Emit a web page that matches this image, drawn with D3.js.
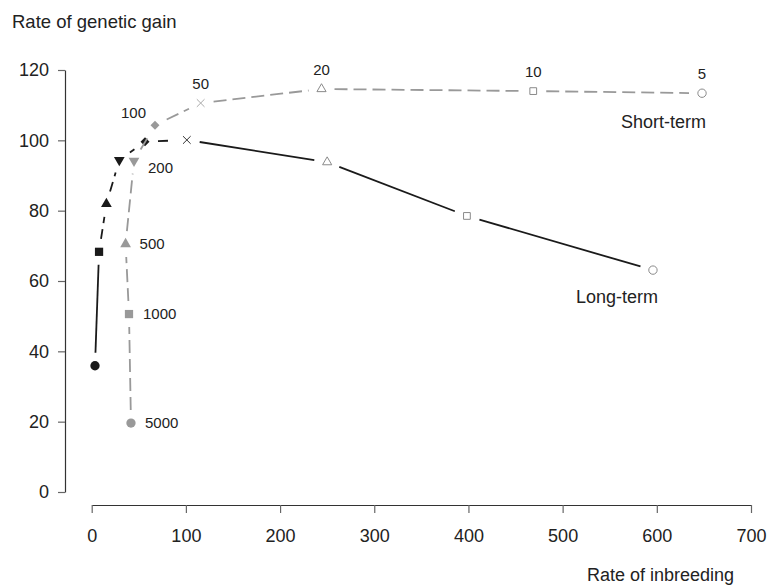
<!DOCTYPE html>
<html>
<head>
<meta charset="utf-8">
<script src="https://cdn.jsdelivr.net/npm/d3@7"></script>
<style>
  body { margin: 0; background: #fff; }
  svg { display: block; font-family: "Liberation Sans", Arial, sans-serif; }
</style>
</head>
<body>
<div id="chart"></div>
<script>
// population sizes labelling each point (same order in both series)
const popSizes = ["5000", "1000", "500", "200", "100", "50", "20", "10", "5"];

// long-term response
const longInbreeding = [3.5, 7.8, 15.6, 29.3, 56.6, 101, 250, 398.4, 595.9];
const longGain = [35.9, 68.3, 81.9, 94.4, 99.6, 100.1, 93.8, 78.5, 63.1];

// short-term response
const shortInbreeding = [41.7, 39.6, 36, 44.9, 67.2, 115.7, 244, 468.8, 648];
const shortGain = [19.6, 50.6, 70.5, 94.2, 104.3, 110.6, 114.6, 114.0, 113.4];

const xTicks = [0, 100, 200, 300, 400, 500, 600, 700];
const yTicks = [0, 20, 40, 60, 80, 100, 120];

const width = 769, height = 586;

const x = d3.scaleLinear().domain([0, 700]).range([91.7, 751]);
const y = d3.scaleLinear().domain([0, 120]).range([492, 70]);

const svg = d3.select("#chart").append("svg")
    .attr("width", width)
    .attr("height", height);

// axes
const yAxis = svg.append("g")
    .attr("transform", "translate(65,0)")
    .call(d3.axisLeft(y).tickValues(yTicks).tickSize(7).tickSizeOuter(0).tickPadding(9));
const xAxis = svg.append("g")
    .attr("transform", "translate(0,505)")
    .call(d3.axisBottom(x).tickValues(xTicks).tickSize(8).tickSizeOuter(0).tickPadding(16));

[xAxis, yAxis].forEach(g => {
    g.select(".domain").attr("stroke", "#333").attr("stroke-width", 1.2);
    g.selectAll(".tick line").attr("stroke", "#666").attr("stroke-width", 1.2);
    g.selectAll(".tick text").attr("font-size", 18).attr("fill", "#222")
        .attr("font-family", "Liberation Sans, Arial, sans-serif");
});

svg.append("text")
    .attr("x", 12).attr("y", 28)
    .attr("font-size", 18.5).attr("fill", "#222")
    .text("Rate of genetic gain");

svg.append("text")
    .attr("x", 734).attr("y", 581)
    .attr("text-anchor", "end")
    .attr("font-size", 18).attr("fill", "#222")
    .text("Rate of inbreeding");

// marker shapes by position in the series (diamond = square turned 45deg)
const shapes = [d3.symbolCircle, d3.symbolSquare, d3.symbolTriangle, d3.symbolTriangle,
    d3.symbolSquare, d3.symbolX, d3.symbolTriangle2, d3.symbolSquare2, d3.symbolCircle];
const sizes = [68, 68, 50, 50, 40, 40, 60, 58, 55];
const rotation = [0, 0, 0, 180, 45, 0, 0, 0, 0];
const isOpen = i => i >= 5;

const gap = 13;

function drawSeries(xs, ys, opts) {
    const pts = xs.map((v, i) => [x(v), y(ys[i])]);

    // line segments, trimmed so they stop short of each marker
    const segs = d3.range(pts.length - 1).map(i => {
        const [x0, y0] = pts[i], [x1, y1] = pts[i + 1];
        const len = Math.hypot(x1 - x0, y1 - y0);
        const ux = (x1 - x0) / len, uy = (y1 - y0) / len;
        return { i, x1: x0 + ux * gap, y1: y0 + uy * gap, x2: x1 - ux * gap, y2: y1 - uy * gap };
    });

    svg.append("g").selectAll("line")
        .data(segs)
        .join("line")
        .attr("x1", d => d.x1).attr("y1", d => d.y1)
        .attr("x2", d => d.x2).attr("y2", d => d.y2)
        .attr("stroke", opts.lineColor)
        .attr("stroke-width", 1.8)
        .attr("stroke-dasharray", d => opts.dashed(d.i) ? opts.dash : null);

    svg.append("g").selectAll("path")
        .data(pts)
        .join("path")
        .attr("transform", (d, i) => `translate(${d[0]},${d[1]}) rotate(${rotation[i]})`)
        .attr("d", (d, i) => d3.symbol(shapes[i], sizes[i])())
        .attr("fill", (d, i) => isOpen(i) ? "none" : opts.fill)
        .attr("stroke", (d, i) => i === 5 ? opts.crossColor : (isOpen(i) ? "#8a8a8a" : "none"))
        .attr("stroke-width", 1);

    return pts;
}

const longPts = drawSeries(longInbreeding, longGain, {
    lineColor: "#1a1a1a", fill: "#1a1a1a", crossColor: "#333",
    dash: "10,6", dashed: i => i >= 1 && i <= 4
});

const shortPts = drawSeries(shortInbreeding, shortGain, {
    lineColor: "#999", fill: "#999", crossColor: "#aaa",
    dash: "13,6", dashed: () => true
});

// population size labels next to the short-term points
svg.append("g")
    .attr("font-size", 15).attr("fill", "#222")
    .selectAll("text")
    .data(shortPts)
    .join("text")
    .attr("x", (d, i) => i < 4 ? d[0] + 14 : (i === 4 ? d[0] - 9 : d[0]))
    .attr("y", (d, i) => i < 3 ? d[1] : (i === 3 ? d[1] + 7 : (i === 4 ? d[1] - 12 : d[1] - 19)))
    .attr("dy", "0.35em")
    .attr("text-anchor", (d, i) => i < 4 ? "start" : (i === 4 ? "end" : "middle"))
    .text((d, i) => popSizes[i]);

// series names
const lastShort = shortPts[shortPts.length - 1], lastLong = longPts[longPts.length - 1];
svg.append("text")
    .attr("x", lastShort[0] + 4).attr("y", lastShort[1] + 28).attr("dy", "0.35em")
    .attr("text-anchor", "end").attr("font-size", 18).attr("fill", "#222")
    .text("Short-term");
svg.append("text")
    .attr("x", lastLong[0] + 5).attr("y", lastLong[1] + 27).attr("dy", "0.35em")
    .attr("text-anchor", "end").attr("font-size", 18).attr("fill", "#222")
    .text("Long-term");
</script>
</body>
</html>
